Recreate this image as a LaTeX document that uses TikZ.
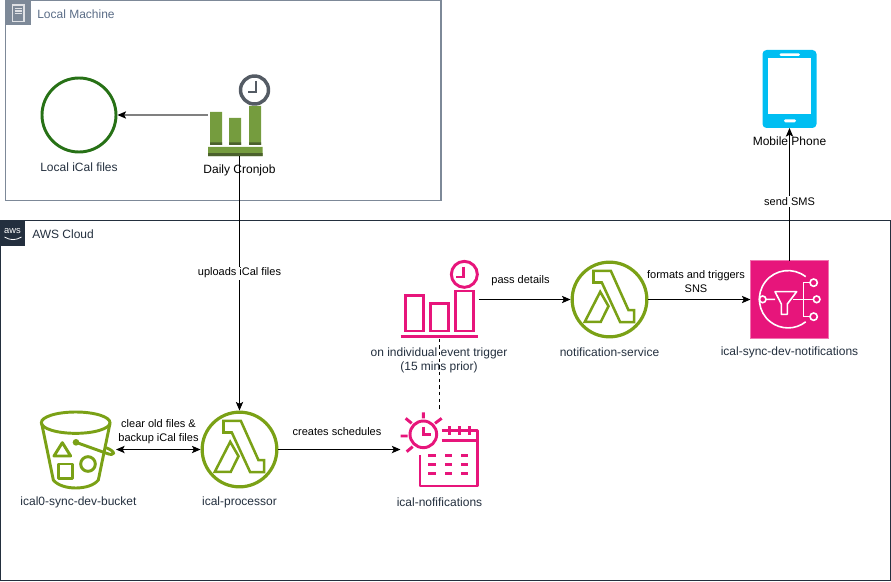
\documentclass[tikz,border=0pt]{standalone}
\usepackage{fontspec}
\setmainfont{Liberation Sans}
\usetikzlibrary{arrows.meta}
\definecolor{awsdark}{HTML}{232F3E}
\definecolor{localedge}{HTML}{7D8998}
\definecolor{localtext}{HTML}{5A6C86}
\definecolor{filegreen}{HTML}{277116}
\definecolor{cronlight}{HTML}{759C3E}
\definecolor{crondark}{HTML}{4B612C}
\definecolor{clockgrey}{HTML}{545B64}
\definecolor{lambdagreen}{HTML}{7AA116}
\definecolor{eventpink}{HTML}{E7157B}
\definecolor{phoneblue}{HTML}{00BEF2}
\tikzset{
  iconbox/.style={minimum width=58.5pt, minimum height=58.5pt, inner sep=0pt, outer sep=0pt},
  lambdaring/.style={circle, draw=lambdagreen, line width=2.4pt, minimum size=56pt, inner sep=0pt, outer sep=1.2pt},
  caption/.style={font=\fontsize{9}{10.5}\selectfont, text=awsdark, align=center, inner sep=0pt},
  edgelabel/.style={font=\fontsize{8.25}{10.5}\selectfont, text=black, align=center, inner sep=1pt},
  linktip/.tip={Stealth[length=6.5pt, width=5.5pt, inset=1.5pt]},
  link/.style={line width=0.8pt, -linktip},
  pics/lambdaglyph/.style={code={
    \draw[draw=lambdagreen, line width=1.9pt, line join=miter]
      (-16,-28.7) -- (1.3,-28.7) -- (19,10.7) -- (24.7,10.7) -- (24.7,22.7) -- (10.7,22.7) -- (-7.7,-17) -- (-16,-17) -- cycle
      (-9.3,-7.7) -- (-24.7,22.3) -- (-8.7,22.3) -- (-1,6.7) -- cycle;
  }}
}
\begin{document}
\begin{tikzpicture}[x=0.75pt, y=-0.75pt]
  \useasboundingbox (0,0) rectangle (891,581);
  % groups
  \draw[localedge, line width=0.8pt] (5.5,0.5) rectangle (441,200.5);
  \draw[awsdark, line width=0.8pt] (0.5,220.5) rectangle (890.5,580.5);
  % local machine header
  \fill[localedge] (5,0) rectangle (30.5,25.5);
  \draw[white!75!localedge, line width=1pt] (12.7,5) rectangle (24,21.7)
    (14.5,8.5) -- (22.2,8.5) (14.5,11) -- (22.2,11) (14.5,13.5) -- (22.2,13.5);
  \node[caption, anchor=west, text=localtext] (localtitle) at (37,14.5) {Local Machine};
  % aws header
  \fill[awsdark] (0,220.5) rectangle (25,245.5);
  \node[font=\fontsize{7}{7}\selectfont, text=white, inner sep=0pt] (awslogo) at (12.5,231) {aws};
  \draw[white, line width=0.6pt] (4.5,237) .. controls (10,240.5) and (16,240.5) .. (21.5,237);
  \node[caption, anchor=west] (awstitle) at (32,234) {AWS Cloud};
  % local files
  \node[circle, draw=filegreen, line width=2.2pt, minimum size=55.5pt, inner sep=0pt, outer sep=1.1pt] (localfiles) at (79,115) {};
  \node[caption] (localfileslabel) at (79,167.5) {Local iCal files};
  % cronjob
  \node[iconbox, minimum width=48pt, minimum height=61.5pt] (cronjob) at (239.5,115) {};
  \fill[cronlight] (210,112) rectangle (222,145) (229,118) rectangle (241,145) (249,106) rectangle (261,145) (208,147) rectangle (262.5,156);
  \fill[crondark] (210,142.5) rectangle (222,145) (229,142.5) rectangle (241,145) (249,142.5) rectangle (261,145) (208,153) rectangle (262.5,156);
  \draw[clockgrey, fill=white, line width=2.6pt] (254.5,90) circle[radius=14];
  \draw[clockgrey, line width=1.9pt] (256,81) -- (256,92) -- (248,92);
  \node[caption, text=black] (cronjoblabel) at (239.5,170.5) {Daily Cronjob};
  % bucket
  \node[iconbox] (bucket) at (77,449.5) {};
  \begin{scope}[shift={(0,400)}, scale=1/3, lambdagreen, line width=2.2pt]
    \draw (227,68) ellipse[x radius=103, y radius=32];
    \draw (125,70) -- (160,240) .. controls (185,272) and (270,272) .. (295,240) -- (330,70);
    \draw[line join=round] (187,128) -- (162,168) -- (212,168) -- cycle;
    \draw[line join=round] (176,192) rectangle (217,235);
    \draw (264,192) circle[radius=22];
    \fill (228,127) circle[radius=10];
    \draw (228,127) -- (320,160) .. controls (345,170) and (350,155) .. (318,143);
  \end{scope}
  \node[caption] (bucketlabel) at (78.5,502.5) {ical0-sync-dev-bucket};
  % processor
  \node[lambdaring] (processor) at (239.5,449.5) {};
  \pic at (239.5,449.5) {lambdaglyph};
  \node[caption] (processorlabel) at (239.5,502.5) {ical-processor};
  % schedule
  \node[iconbox] (schedule) at (439.5,449.5) {};
  \begin{scope}[shift={(360,250)}, scale=1/3, eventpink, line width=2.2pt]
    \draw (190,553) circle[radius=40];
    \draw (190,530) -- (190,553) -- (212,553);
    \draw (190,487) -- (190,505) (225,520) -- (245,505) (155,520) -- (137,505) (122,558) -- (143,558) (140,605) -- (158,590);
    \draw[line join=round] (245,542) -- (352,542) -- (352,708) -- (180,708) -- (180,615);
    \draw (245,572) -- (352,572) (268,528) -- (268,555) (298,528) -- (298,555) (328,528) -- (328,555);
    \foreach \row in {617,643,670} {
      \draw (205,\row) -- (228,\row) (255,\row) -- (275,\row) (303,\row) -- (323,\row);
    }
  \end{scope}
  \node[caption] (schedulelabel) at (439.5,502.5) {ical-nofifications};
  % trigger
  \node[iconbox] (trigger) at (439.5,299.5) {};
  \begin{scope}[shift={(360,250)}, scale=1/3, eventpink, line width=2.2pt]
    \draw (137,137) rectangle (190,243) (212,160) rectangle (265,243) (287,123) rectangle (340,243);
    \draw (122,260) -- (355,260);
    \draw (313,73) circle[radius=39];
    \draw (310,50) -- (310,81) -- (288,81);
  \end{scope}
  \node[caption] (triggerlabel) at (439,360) {on individual event trigger\\(15 mins prior)};
  % notification service
  \node[lambdaring] (service) at (609.5,299.5) {};
  \pic at (609.5,299.5) {lambdaglyph};
  \node[caption] (servicelabel) at (609.5,352.5) {notification-service};
  % sns
  \node[fill=eventpink, draw=eventpink!60!white, line width=0.75pt, minimum size=58.5pt, inner sep=0pt, outer sep=0pt] (sns) at (789.5,299.5) {};
  \begin{scope}[shift={(640,30)}, scale=1/3, white, line width=1.2pt]
    \draw (497,740) arc[start angle=-52, end angle=-308, radius=86];
    \draw (368,808) circle[radius=10] (378,808) -- (405,808);
    \draw[line join=round] (405,785) -- (470,785) -- (442,822) -- (442,853) -- (424,853) -- (424,822) -- cycle;
    \draw (458,808) -- (520,808) (510,758) -- (490,758) -- (490,860) -- (510,860);
    \draw (521,758) circle[radius=11] (530,808) circle[radius=10] (521,860) circle[radius=11];
  \end{scope}
  \node[caption] (snslabel) at (789.5,352.5) {ical-sync-dev-notifications};
  % phone
  \node[fill=phoneblue, rounded corners=3pt, minimum width=40.5pt, minimum height=58.5pt, inner sep=0pt, outer sep=0pt] (phone) at (789.5,89) {};
  \fill[white] (768.3,58.3) rectangle (811,114);
  \fill[white, rounded corners=1pt] (779.5,53.3) rectangle (800,56) (784,119.3) rectangle (796,122.3);
  \node[caption, text=black] (phonelabel) at (789.5,141.5) {Mobile Phone};
  % connectors
  \draw[link, draw=gray, -{linktip[black]}] (cronjob.west) -- (localfiles.east);
  \draw[link] (cronjob.south) -- node[edgelabel, fill=white, pos=0.46] (uploadlabel) {uploads iCal files} (processor.north);
  \draw[link, linktip-linktip] (bucket.east) -- (processor.west);
  \node[edgelabel] (clearlabel) at (158.5,432) {clear old files \&\\backup iCal files};
  \draw[link] (processor.east) -- (schedule.west);
  \node[edgelabel] (createlabel) at (337,432) {creates schedules};
  \draw[line width=0.8pt, dash pattern=on 2.5pt off 2.5pt] (trigger.south) -- (schedule.north);
  \draw[link] (trigger.east) -- (service.west);
  \node[edgelabel] (passlabel) at (520.5,281) {pass details};
  \draw[link] (service.east) -- (sns.west);
  \node[edgelabel] (formatlabel) at (696,281.5) {formats and triggers\\SNS};
  \draw[link] (sns.north) -- node[edgelabel, fill=white, pos=0.447] (smslabel) {send SMS} (phone.south);
\end{tikzpicture}
\end{document}
